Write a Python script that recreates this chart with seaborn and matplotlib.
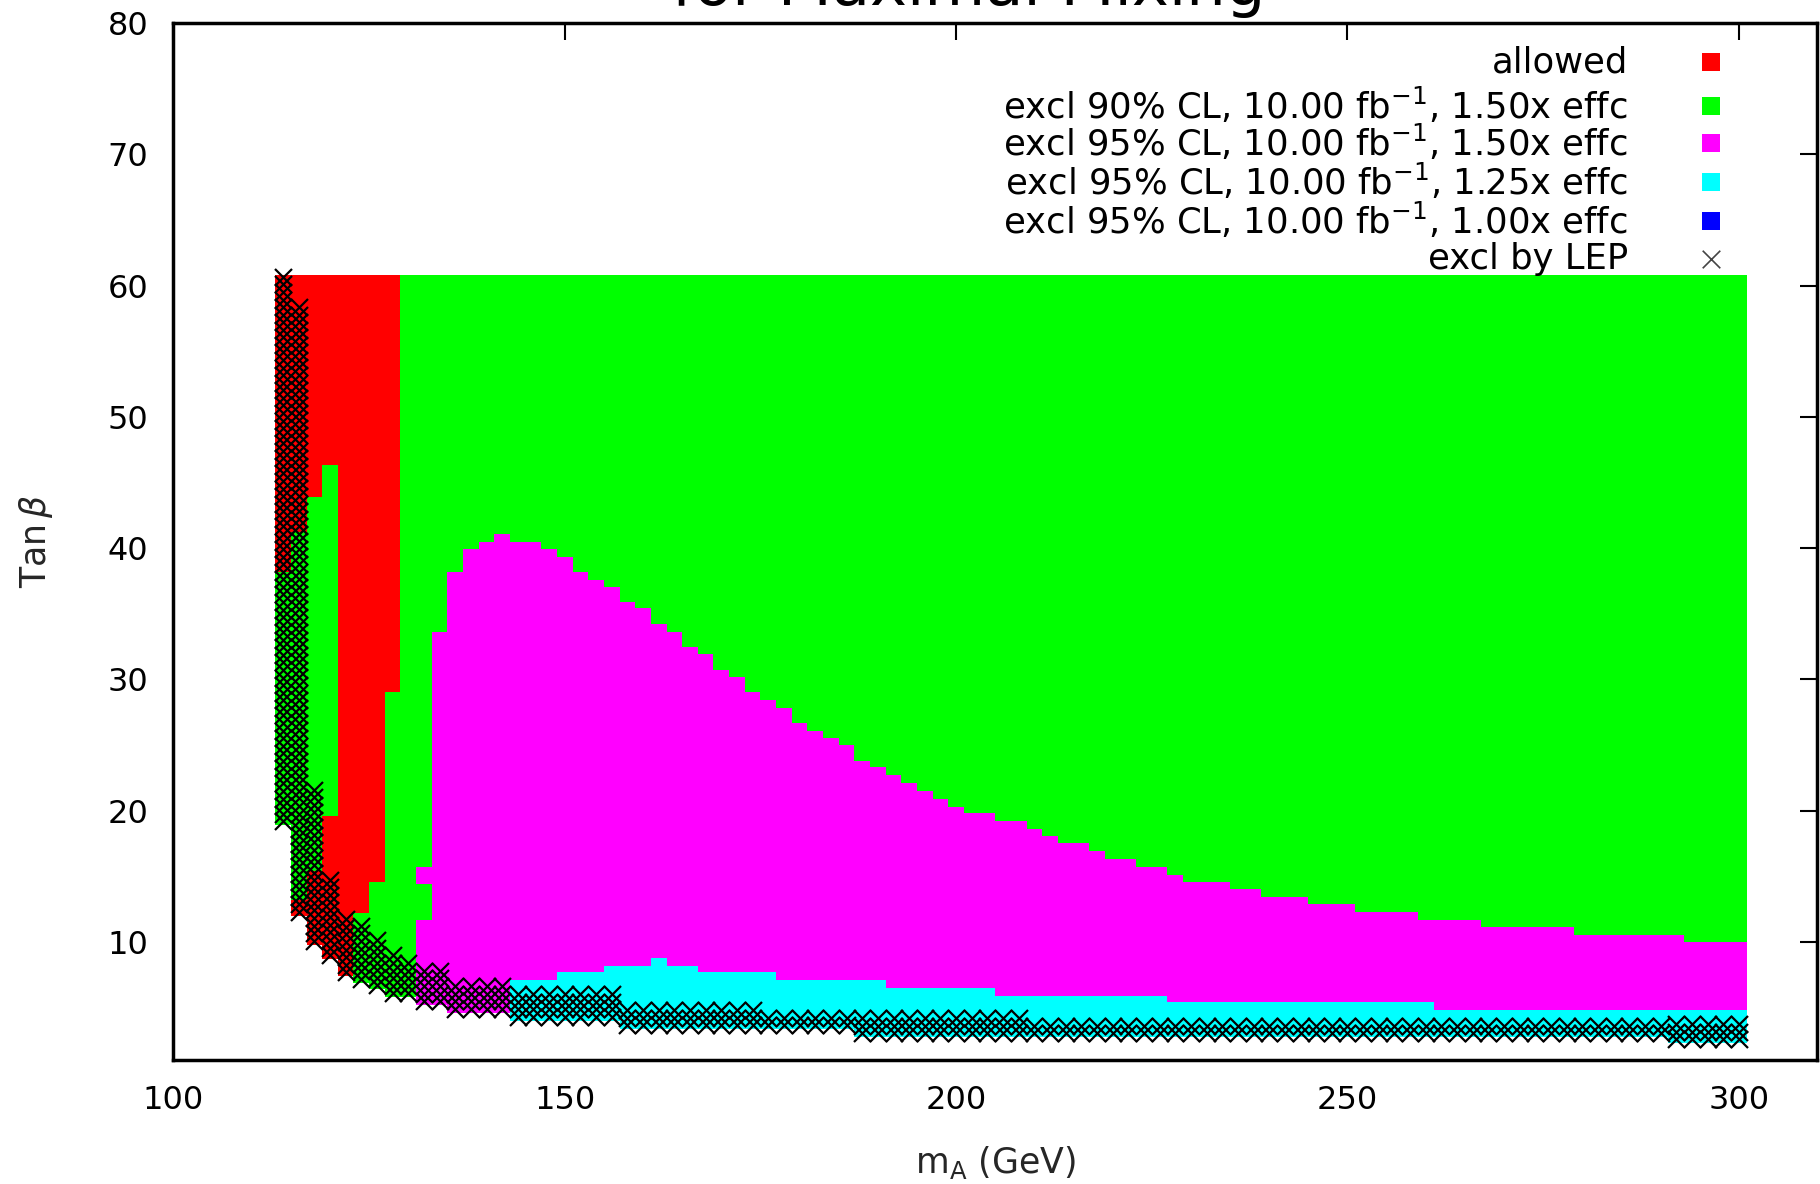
import numpy as np
import matplotlib
matplotlib.use('Agg')
import matplotlib.pyplot as plt
from matplotlib.colors import ListedColormap
import seaborn as sns

# scan grid: m_A columns are 2 GeV wide, tan(beta) cells ~0.576 high
mA_lo = np.arange(113, 301, 2)
mA_step = 2.0
tanb_top = 60.8
tanb_step = 0.576

# lowest scanned tan(beta) per m_A (step values, start of each step)
bottom_x = [113, 115, 117, 119, 121, 123, 125, 127, 131, 135, 143, 157, 187, 291]
bottom_y = [18.9, 12.0, 9.8, 8.7, 7.4, 6.9, 6.4, 5.8, 5.2, 4.6, 4.0, 3.35, 2.75, 2.3]

# upper edge of the 95% CL / 1.50x region (magenta)
mag_x = [131, 133, 135, 137, 139, 141, 143, 147, 149, 151, 153, 155, 157, 159, 161,
         163, 165, 167, 169, 171, 173, 175, 177, 179, 181, 183, 185, 187, 189, 191,
         193, 195, 197, 199, 201, 205, 209, 211, 213, 217, 219, 223, 227, 229, 235,
         239, 245, 251, 259, 267, 279, 293]
mag_y = [15.7, 33.6, 38.2, 39.9, 40.5, 41.1, 40.5, 39.9, 39.3, 38.2, 37.6, 37.0, 35.9,
         35.4, 34.2, 33.6, 32.5, 31.9, 30.7, 30.2, 29.0, 28.4, 27.8, 26.7, 26.1, 25.5,
         25.0, 23.8, 23.3, 22.7, 22.1, 21.5, 20.9, 20.3, 19.8, 19.2, 18.6, 18.1, 17.5,
         16.9, 16.3, 15.7, 15.1, 14.6, 14.0, 13.4, 12.9, 12.3, 11.7, 11.1, 10.5, 10.0]
# hole of 90% CL inside the magenta column at 131 GeV
gap_x = [131]
gap_lo = [11.7]
gap_hi = [14.4]

# upper edge of the 95% CL / 1.25x region (cyan)
cyan_x = [143, 149, 155, 161, 163, 167, 177, 191, 205, 227, 261]
cyan_y = [7.1, 7.7, 8.2, 8.8, 8.2, 7.7, 7.1, 6.5, 5.9, 5.4, 4.8]

# allowed region (red): upper band starts at red_hi_lo, lower band ends at red_lo_hi
red_hi_x = [113, 115, 117, 119, 121, 123, 125, 127, 129]
red_hi_lo = [38.2, 41.2, 43.9, 46.3, 0.0, 12.2, 14.6, 29.0, 99.0]
red_lo_x = [113, 115, 117, 119, 121]
red_lo_hi = [0.0, 13.2, 15.4, 19.6, 0.0]

# number of LEP-excluded cells counted up from the bottom of the scan
lep_x = [113, 115, 117, 119, 121, 125, 127, 129, 133, 135, 157, 175, 187, 209, 291]
lep_rows = [73, 81, 21, 11, 8, 7, 6, 5, 5, 4, 3, 2, 3, 2, 3]

legend_labels = ['allowed',
                 r'excl 90% CL, 10.00 fb$^{-1}$, 1.50x effc',
                 r'excl 95% CL, 10.00 fb$^{-1}$, 1.50x effc',
                 r'excl 95% CL, 10.00 fb$^{-1}$, 1.25x effc',
                 r'excl 95% CL, 10.00 fb$^{-1}$, 1.00x effc',
                 'excl by LEP']
region_colors = ['#ff0000', '#00ff00', '#ff00ff', '#00ffff', '#0000ff']


def steps(xs, ys, x, fill=np.nan):
    idx = np.searchsorted(xs, x, side='right') - 1
    out = np.asarray(ys, dtype=float)[np.clip(idx, 0, None)]
    return np.where(idx < 0, fill, out)


sns.set_theme(style='white')
plt.rcParams['font.family'] = ['DejaVu Sans']
plt.rcParams['mathtext.fontset'] = 'dejavusans'

cx = mA_lo + mA_step / 2
bot = steps(bottom_x, bottom_y, cx)

y_edges = np.arange(1.0, 61.0001, 0.05)
ym = (y_edges[:-1] + y_edges[1:])[:, None] / 2
inside = (ym >= bot[None, :]) & (ym <= tanb_top)

Z = np.full(inside.shape, np.nan)
Z[inside] = 2
mtop = steps(mag_x, mag_y, cx)
Z[inside & (ym < mtop[None, :])] = 3
for gx, lo, hi in zip(gap_x, gap_lo, gap_hi):
    col = np.isclose(mA_lo, gx)[None, :]
    Z[inside & col & (ym > lo) & (ym < hi)] = 2
ctop = steps(cyan_x, cyan_y, cx)
Z[inside & (ym < ctop[None, :])] = 4
rhi = steps(red_hi_x, red_hi_lo, cx)
Z[inside & (ym >= rhi[None, :])] = 1
rlo = steps(red_lo_x, red_lo_hi, cx)
Z[inside & (ym < rlo[None, :])] = 1

x_edges = np.append(mA_lo, mA_lo[-1] + mA_step)

fig = plt.figure(figsize=(18.2, 11.84), dpi=100)
ax = fig.add_axes([0.0953, 0.1047, 0.9031, 0.8759])
ax.pcolormesh(x_edges, y_edges, np.ma.masked_invalid(Z),
              cmap=ListedColormap(region_colors), vmin=0.5, vmax=5.5,
              shading='flat', antialiased=False, rasterized=True)

# LEP crosses on the scan cells
nrows = steps(lep_x, lep_rows, cx).astype(int)
px, py = [], []
for c, b, n in zip(cx, bot, nrows):
    ys = b + tanb_step * (np.arange(n) + 0.5)
    ys = ys[ys <= tanb_top]
    px += [c] * len(ys)
    py += list(ys)
sns.scatterplot(x=px, y=py, marker='x', color='black', s=150, linewidth=1.6,
                ax=ax, legend=False, zorder=3)

ax.set_xlim(100, 310)
ax.set_ylim(1, 80)
ax.set_xticks([100, 150, 200, 250, 300])
ax.set_yticks([10, 20, 30, 40, 50, 60, 70, 80])
ax.tick_params(direction='in', length=12, width=1.5, top=True, right=True,
               labelsize=23, pad=18, colors='black')
for s in ax.spines.values():
    s.set_color('black')
    s.set_linewidth(2.5)
ax.set_xlabel(r'm$_{\rm A}$ (GeV)', fontsize=25, labelpad=20)
ax.set_ylabel(r'Tan$\,\beta$', fontsize=25, labelpad=38)

# gnuplot style key: right aligned text, sample to the right
key_y = [0.962, 0.920, 0.884, 0.847, 0.809, 0.772]
for i, lab in enumerate(legend_labels):
    ax.text(0.885, key_y[i], lab, transform=ax.transAxes, ha='right', va='center',
            fontsize=25.5, color='black')
    if i < len(region_colors):
        ax.scatter([0.9355], [key_y[i]], transform=ax.transAxes, marker='s', s=150,
                   color=region_colors[i], linewidths=0, clip_on=False)
    else:
        ax.scatter([0.9355], [key_y[i]], transform=ax.transAxes, marker='x', s=160,
                   color='#444444', linewidths=1.2, clip_on=False)

fig.text(0.532, 1 - 5 / 1184, 'for Maximal Mixing', ha='center', va='baseline',
         fontsize=45, color='black')

fig.savefig('out.png', dpi=100)
